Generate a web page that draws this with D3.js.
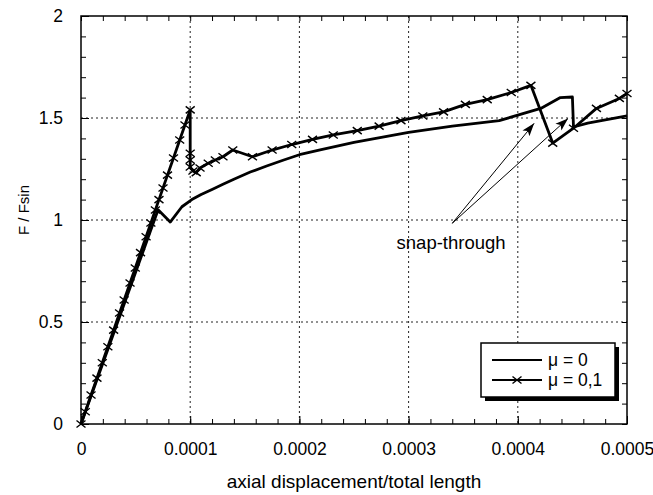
<!DOCTYPE html>
<html>
<head>
<meta charset="utf-8">
<script src="https://cdn.jsdelivr.net/npm/d3@7"></script>
<style>
body { margin: 0; background: #fff; }
svg text { font-family: 'Liberation Sans', Arial, sans-serif; fill: #000; }
</style>
</head>
<body>
<svg id="chart" width="653" height="495"></svg>
<script>
// mu = 0 curve (plain line)
var mu0_x = [0, 0.0000706, 0.0000817, 0.0000924, 0.0001015, 0.00011, 0.00012, 0.00013, 0.00014,
  0.000155, 0.00017, 0.000185, 0.0002, 0.00022, 0.00025, 0.00028, 0.0003, 0.00034, 0.000383,
  0.000421, 0.000439, 0.00045, 0.000451, 0.000464, 0.0005];
var mu0_y = [0, 1.05, 0.99, 1.065, 1.10, 1.125, 1.15, 1.175, 1.20,
  1.235, 1.265, 1.293, 1.32, 1.345, 1.38, 1.41, 1.43, 1.46, 1.487,
  1.547, 1.60, 1.603, 1.456, 1.475, 1.51];

// mu = 0,1 curve (line with x markers)
var mu01_x = [0, 0.0000039, 0.0000092, 0.0000146, 0.0000195, 0.0000246, 0.0000299, 0.0000353,
  0.0000395, 0.0000449, 0.0000497, 0.0000545, 0.0000596, 0.000064, 0.0000681, 0.0000714,
  0.0000751, 0.0000792, 0.0000847, 0.0000904, 0.0000952, 0.0001,
  0.0001, 0.0001, 0.0001, 0.0001025, 0.0001055, 0.000109, 0.0001165, 0.000123, 0.00013, 0.000139,
  0.000157, 0.000175, 0.000193, 0.000212, 0.000231, 0.000253, 0.000273, 0.000293, 0.000313,
  0.000332, 0.000352, 0.000372, 0.000394, 0.000412, 0.000432, 0.000451, 0.000472, 0.000493, 0.0005];
var mu01_y = [0, 0.06, 0.142, 0.225, 0.30, 0.379, 0.46, 0.544,
  0.608, 0.691, 0.765, 0.84, 0.918, 0.985, 1.049, 1.10,
  1.157, 1.22, 1.304, 1.392, 1.466, 1.54,
  1.327, 1.294, 1.26, 1.24, 1.232, 1.255, 1.278, 1.294, 1.31, 1.343,
  1.31, 1.343, 1.37, 1.395, 1.417, 1.438, 1.46, 1.487, 1.51,
  1.53, 1.567, 1.59, 1.625, 1.66, 1.377, 1.45, 1.547, 1.596, 1.62];

var x_ticks = [0, 0.0001, 0.0002, 0.0003, 0.0004, 0.0005];
var x_tick_labels = ['0', '0.0001', '0.0002', '0.0003', '0.0004', '0.0005'];
var y_ticks = [0, 0.5, 1, 1.5, 2];
var y_tick_labels = ['0', '0.5', '1', '1.5', '2'];

var legend_labels = ['\u03bc = 0', '\u03bc = 0,1'];

// snap-through annotation (data coords)
var note_text = 'snap-through';
var note_pos = [0.000289, 0.86];
var arrow_start = [0.00034, 0.984];
var arrow_end_x = [0.000415, 0.000446];
var arrow_end_y = [1.474, 1.498];

var margin = { top: 16, right: 26, bottom: 71, left: 81 };
var svg = d3.select('#chart');
var width = +svg.attr('width') - margin.left - margin.right;
var height = +svg.attr('height') - margin.top - margin.bottom;

var x = d3.scaleLinear().domain([0, 0.0005]).range([0, width]);
var y = d3.scaleLinear().domain([0, 2]).range([height, 0]);

var g = svg.append('g')
  .attr('transform', 'translate(' + margin.left + ',' + margin.top + ')');

// grid
g.append('g').selectAll('line')
  .data(x_ticks.slice(1, -1))
  .enter().append('line')
  .attr('x1', function(d) { return x(d); })
  .attr('x2', function(d) { return x(d); })
  .attr('y1', 0).attr('y2', height)
  .style('stroke', '#222').style('stroke-dasharray', '2,3');

g.append('g').selectAll('line')
  .data(y_ticks.slice(1, -1))
  .enter().append('line')
  .attr('y1', function(d) { return y(d); })
  .attr('y2', function(d) { return y(d); })
  .attr('x1', 0).attr('x2', width)
  .style('stroke', '#222').style('stroke-dasharray', '2,3');

// minor ticks all round
var minor_x = x.ticks(25);
var minor_y = y.ticks(20);
function tickAxis(axis, tr) {
  var a = g.append('g').attr('transform', tr).call(axis);
  a.select('.domain').remove();
  a.selectAll('text').remove();
  a.selectAll('line').style('stroke', '#000');
}
tickAxis(d3.axisBottom(x).tickValues(minor_x).tickSize(-5), 'translate(0,' + height + ')');
tickAxis(d3.axisTop(x).tickValues(minor_x).tickSize(-5), 'translate(0,0)');
tickAxis(d3.axisLeft(y).tickValues(minor_y).tickSize(-5), 'translate(0,0)');
tickAxis(d3.axisRight(y).tickValues(minor_y).tickSize(-5), 'translate(' + width + ',0)');

// major axes with labels
var xAxis = g.append('g')
  .attr('transform', 'translate(0,' + height + ')')
  .call(d3.axisBottom(x).tickValues(x_ticks).tickSize(-8).tickPadding(19)
    .tickFormat(function(d, i) { return x_tick_labels[i]; }));
xAxis.select('.domain').remove();
xAxis.selectAll('text').style('font-size', '17.5px').style('font-family', null);
xAxis.selectAll('line').style('stroke', '#000');

var yAxis = g.append('g')
  .call(d3.axisLeft(y).tickValues(y_ticks).tickSize(-8).tickPadding(18)
    .tickFormat(function(d, i) { return y_tick_labels[i]; }));
yAxis.select('.domain').remove();
yAxis.selectAll('text').style('font-size', '17.5px').style('font-family', null);
yAxis.selectAll('line').style('stroke', '#000');

// frame
g.append('rect')
  .attr('width', width).attr('height', height)
  .style('fill', 'none').style('stroke', '#000').style('stroke-width', 1.5);

// curves
var line = d3.line()
  .x(function(d) { return x(d[0]); })
  .y(function(d) { return y(d[1]); });

var mu0 = mu0_x.map(function(v, i) { return [v, mu0_y[i]]; });
var mu01 = mu01_x.map(function(v, i) { return [v, mu01_y[i]]; });

g.append('path').datum(mu0)
  .attr('d', line)
  .style('fill', 'none').style('stroke', '#000').style('stroke-width', 2.8)
  .style('stroke-linejoin', 'round');

g.append('path').datum(mu01)
  .attr('d', line)
  .style('fill', 'none').style('stroke', '#000').style('stroke-width', 2.8)
  .style('stroke-linejoin', 'round');

var cross = 'M-4.5,-3.5L4.5,3.5M-4.5,3.5L4.5,-3.5';
g.append('g').selectAll('path')
  .data(mu01)
  .enter().append('path')
  .attr('d', cross)
  .attr('transform', function(d) { return 'translate(' + x(d[0]) + ',' + y(d[1]) + ')'; })
  .style('fill', 'none').style('stroke', '#000').style('stroke-width', 1.4);

// arrows
svg.append('defs').append('marker')
  .attr('id', 'head')
  .attr('viewBox', '0 -5 13 10')
  .attr('refX', 13).attr('refY', 0)
  .attr('markerWidth', 13).attr('markerHeight', 10)
  .attr('markerUnits', 'userSpaceOnUse')
  .attr('orient', 'auto')
  .append('path')
  .attr('d', 'M0,-4.5L13,0L0,4.5L3,0Z')
  .style('fill', '#000');

g.append('g').selectAll('line')
  .data(arrow_end_x)
  .enter().append('line')
  .attr('x1', x(arrow_start[0])).attr('y1', y(arrow_start[1]))
  .attr('x2', function(d) { return x(d); })
  .attr('y2', function(d, i) { return y(arrow_end_y[i]); })
  .attr('marker-end', 'url(#head)')
  .style('stroke', '#000').style('stroke-width', 1);

g.append('text')
  .attr('x', x(note_pos[0])).attr('y', y(note_pos[1]))
  .style('font-size', '18.5px')
  .text(note_text);

// legend
var lg = g.append('g').attr('transform', 'translate(' + (width - 146) + ',' + (height - 81) + ')');
lg.append('rect').attr('x', 4).attr('y', 4).attr('width', 134).attr('height', 54).style('fill', '#000');
lg.append('rect').attr('width', 134).attr('height', 54)
  .style('fill', '#fff').style('stroke', '#000').style('stroke-width', 1.5);
legend_labels.forEach(function(lab, i) {
  var yy = 17 + i * 20;
  lg.append('line').attr('x1', 11).attr('x2', 61).attr('y1', yy).attr('y2', yy)
    .style('stroke', '#000').style('stroke-width', 2);
  if (i == 1) {
    lg.append('path').attr('d', cross)
      .attr('transform', 'translate(36,' + yy + ')')
      .style('fill', 'none').style('stroke', '#000').style('stroke-width', 1.4);
  }
  lg.append('text').attr('x', 67).attr('y', yy).attr('dy', '0.35em')
    .style('font-size', '17.5px').text(lab);
});

// axis titles
svg.append('text')
  .attr('x', margin.left + width / 2).attr('y', 488)
  .attr('text-anchor', 'middle')
  .style('font-size', '19px')
  .text('axial displacement/total length');

svg.append('text')
  .attr('transform', 'translate(29,210) rotate(-90)')
  .attr('text-anchor', 'middle')
  .style('font-size', '15px')
  .text('F / Fsin');
</script>
</body>
</html>
